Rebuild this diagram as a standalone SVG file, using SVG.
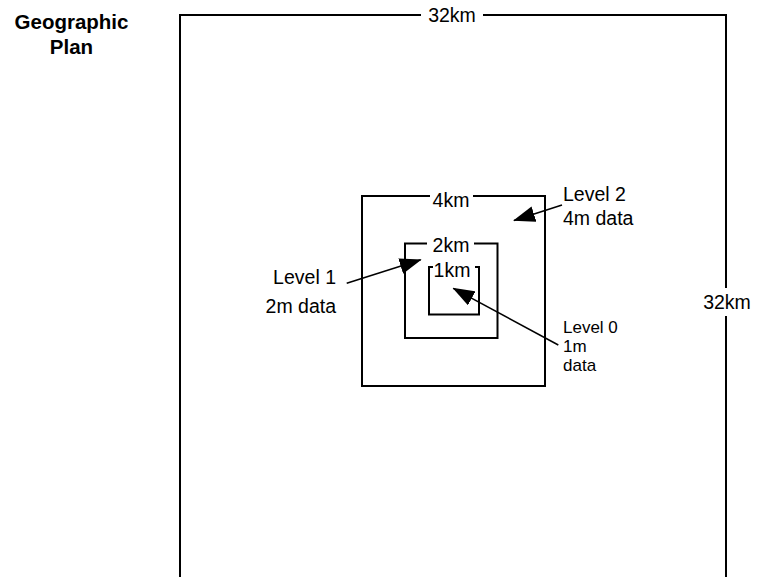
<svg xmlns="http://www.w3.org/2000/svg" width="757" height="577" viewBox="0 0 757 577">
  <style>
    .frame { fill: none; stroke: #000; stroke-width: 2; }
    .conn { fill: none; stroke: #000; stroke-width: 1.5; }
    .t { font-family: "Liberation Sans", Arial, sans-serif; font-size: 19.5px; fill: #000; }
    .ts { font-family: "Liberation Sans", Arial, sans-serif; font-size: 17px; fill: #000; }
    .title { font-family: "Liberation Sans", Arial, sans-serif; font-size: 20.5px; font-weight: bold; fill: #000; }
  </style>
  <defs>
    <marker id="arrow" markerUnits="userSpaceOnUse" markerWidth="22" markerHeight="16" refX="21" refY="8" orient="auto">
      <path d="M0,0 L22,8 L0,16 z" fill="#000"/>
    </marker>
  </defs>
  <rect width="757" height="577" fill="#fff"/>

  <g id="title">
    <text class="title" x="71.5" y="28.5" text-anchor="middle">Geographic</text>
    <text class="title" x="71.5" y="53.5" text-anchor="middle">Plan</text>
  </g>

  <g id="plan-32km">
    <path class="frame" d="M421,15 H180 V577 M483,15 H726 V288 M726,316 V577"/>
    <text class="t" x="452" y="22" text-anchor="middle">32km</text>
    <text class="t" x="727" y="309" text-anchor="middle">32km</text>
  </g>

  <g id="area-4km">
    <path class="frame" d="M430,196 H362 V386 H545 V196 H473"/>
    <text class="t" x="451" y="207" text-anchor="middle">4km</text>
  </g>

  <g id="area-2km">
    <path class="frame" d="M427,243.5 H405 V338 H497.5 V243.5 H474"/>
    <text class="t" x="451" y="252" text-anchor="middle">2km</text>
  </g>

  <g id="area-1km">
    <path class="frame" d="M433,267 H429 V314.5 H479 V267 H475"/>
    <text class="t" x="452" y="277" text-anchor="middle">1km</text>
  </g>

  <g id="label-level2">
    <text class="t" x="563" y="201">Level 2</text>
    <text class="t" x="563" y="225">4m data</text>
  </g>

  <g id="label-level1">
    <text class="t" x="336" y="283.5" text-anchor="end">Level 1</text>
    <text class="t" x="336" y="313" text-anchor="end">2m data</text>
  </g>

  <g id="label-level0">
    <text class="ts" x="563" y="333">Level 0</text>
    <text class="ts" x="563" y="352">1m</text>
    <text class="ts" x="563" y="371">data</text>
  </g>

  <g id="connectors">
    <line class="conn" x1="562" y1="205" x2="514" y2="220.5" marker-end="url(#arrow)"/>
    <line class="conn" x1="346.7" y1="283.3" x2="420.7" y2="259.8" marker-end="url(#arrow)"/>
    <line class="conn" x1="558.3" y1="345" x2="453.3" y2="288.3" marker-end="url(#arrow)"/>
  </g>
</svg>
